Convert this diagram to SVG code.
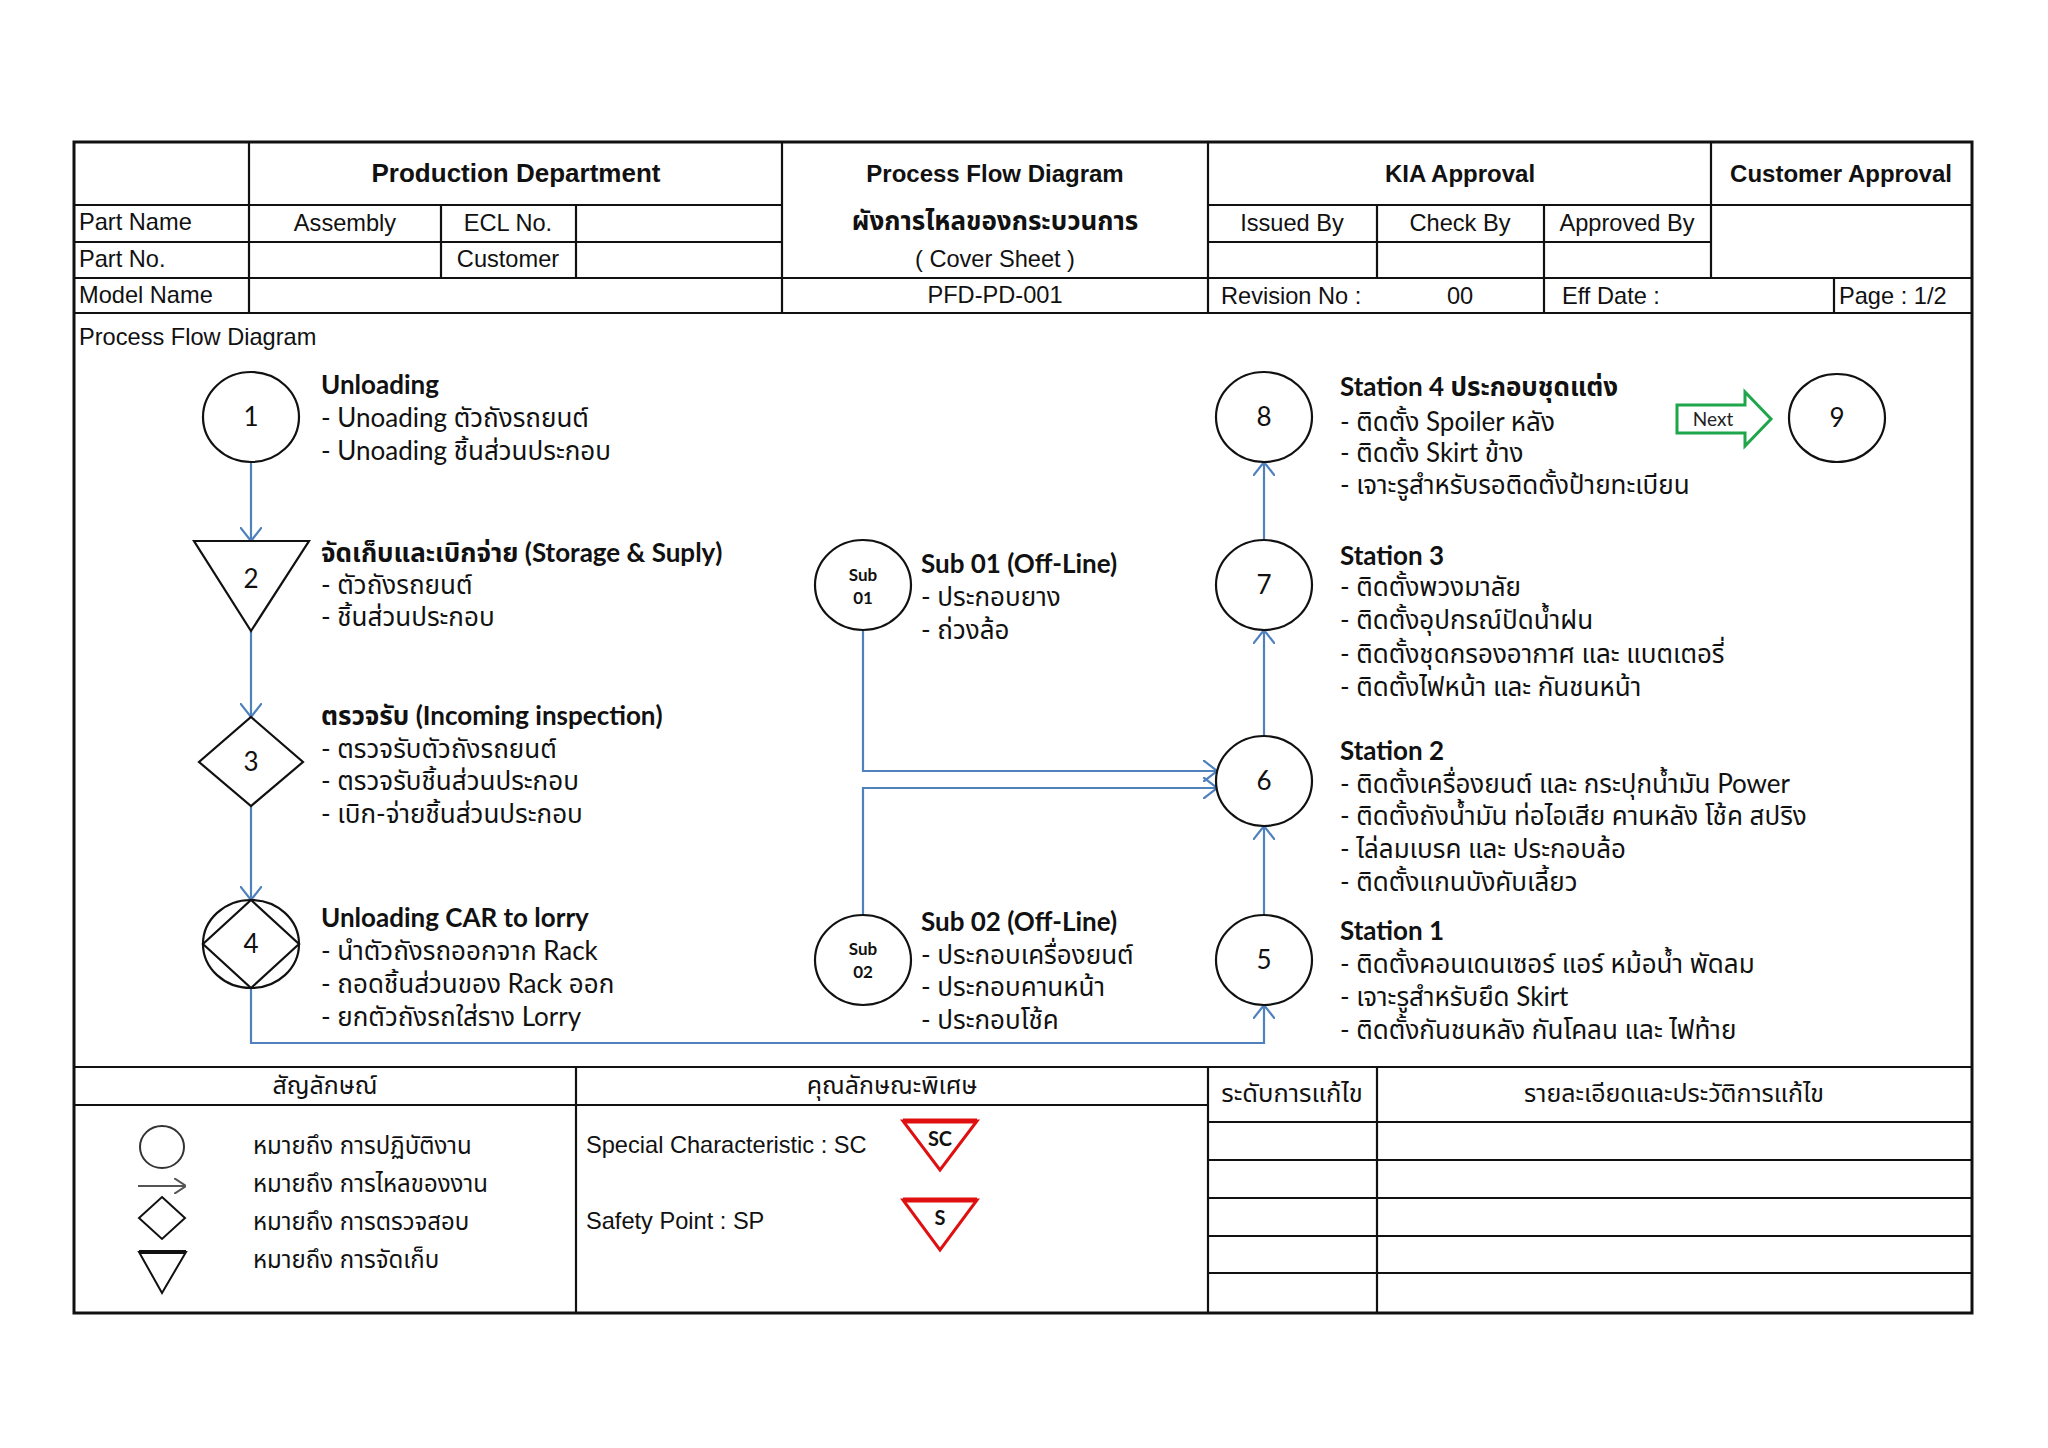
<svg xmlns="http://www.w3.org/2000/svg" width="2048" height="1448" viewBox="0 0 2048 1448">
<defs>
<style>
.ln{stroke:#111;stroke-width:2.2;fill:none}
.hd{font-family:"Liberation Sans",Arial,"Noto Sans Thai","Noto Sans",sans-serif;font-size:23.6px;fill:#111}
.hb{font-family:"Liberation Sans",Arial,"Noto Sans Thai","Noto Sans",sans-serif;font-size:24px;font-weight:bold;fill:#111}
.th{font-family:"Liberation Sans",Arial,"Noto Sans Thai","Noto Sans",sans-serif;font-size:24px;fill:#111}
.ft{font-family:Lato,"Noto Sans Thai","Noto Sans",sans-serif;font-size:26px;fill:#111}
.fb{font-family:Lato,"Noto Sans Thai","Noto Sans",sans-serif;font-size:26px;font-weight:bold;fill:#111}
.num{font-family:Lato,"Noto Sans",sans-serif;font-size:26px;fill:#111;text-anchor:middle}
.sub{font-family:Lato,"Noto Sans",sans-serif;font-size:17px;font-weight:bold;fill:#111;text-anchor:middle}
.shp{stroke:#111;stroke-width:2.2;fill:#fff}
.con{stroke:#4f81bd;stroke-width:2.2;fill:none;marker-end:url(#ah)}
.c{text-anchor:middle}
</style>
<marker id="ah" viewBox="0 0 14 22" refX="14" refY="11" markerWidth="14" markerHeight="22" markerUnits="userSpaceOnUse" orient="auto">
<path d="M0,0 L14,11 L0,22" fill="none" stroke="#4f81bd" stroke-width="2.2"/>
</marker>
<marker id="ahg" viewBox="0 0 12 16" refX="12" refY="8" markerWidth="12" markerHeight="16" markerUnits="userSpaceOnUse" orient="auto">
<path d="M0,0 L12,8 L0,16" fill="none" stroke="#555" stroke-width="2"/>
</marker>
</defs>
<rect width="2048" height="1448" fill="#fff"/>

<g id="frame">
<rect x="74" y="142" width="1898" height="1171" fill="none" stroke="#111" stroke-width="3"/>
<path class="ln" d="M74,205 H782 M1208,205 H1972 M74,242 H782 M1208,242 H1711 M74,278 H1972 M74,313 H1972"/>
<path class="ln" d="M249,142 V313 M441,205 V278 M576,205 V278 M782,142 V313 M1208,142 V313 M1377,205 V278 M1544,205 V313 M1711,142 V278 M1834,278 V313"/>
<path class="ln" d="M74,1067 H1972 M74,1105 H1208 M576,1067 V1313 M1208,1067 V1313 M1377,1067 V1313 M1208,1122 H1972 M1208,1160 H1972 M1208,1198 H1972 M1208,1236 H1972 M1208,1273 H1972"/>
</g>

<g id="header-text">
<text class="hb c" x="516" y="182" style="font-size:26px">Production Department</text>
<text class="hd" x="79" y="230">Part Name</text>
<text class="hd c" x="345" y="231">Assembly</text>
<text class="hd c" x="508" y="231">ECL No.</text>
<text class="hd" x="79" y="267">Part No.</text>
<text class="hd c" x="508" y="267">Customer</text>
<text class="hd" x="79" y="303">Model Name</text>
<text class="hb c" x="995" y="182">Process Flow Diagram</text>
<text class="hb c" x="995" y="230" style="font-size:26px">ผังการไหลของกระบวนการ</text>
<text class="hd c" x="995" y="267">( Cover Sheet )</text>
<text class="hd c" x="995" y="303">PFD-PD-001</text>
<text class="hb c" x="1460" y="182">KIA Approval</text>
<text class="hb c" x="1841" y="182">Customer Approval</text>
<text class="hd c" x="1292" y="231">Issued By</text>
<text class="hd c" x="1460" y="231">Check By</text>
<text class="hd c" x="1627" y="231">Approved By</text>
<text class="hd" x="1221" y="304">Revision No :</text>
<text class="hd c" x="1460" y="304">00</text>
<text class="hd" x="1562" y="304">Eff Date :</text>
<text class="hd" x="1839" y="304">Page : 1/2</text>
<text class="hd" x="79" y="345">Process Flow Diagram</text>
</g>

<g id="connectors">
<path class="con" d="M251,462 V541"/>
<path class="con" d="M251,631 V717"/>
<path class="con" d="M251,806 V900"/>
<path class="con" d="M251,989 V1043 H1264 V1005"/>
<path class="con" d="M1264,915 V826"/>
<path class="con" d="M1264,736 V630"/>
<path class="con" d="M1264,540 V462"/>
<path class="con" d="M863,630 V771 H1217"/>
<path class="con" d="M863,915 V788 H1217"/>
</g>

<g id="node1">
<ellipse class="shp" cx="251" cy="417" rx="48" ry="45"/>
<text class="num" x="251" y="426">1</text>
<text class="fb" x="321" y="394">Unloading</text>
<text class="ft" x="321" y="427">- Unoading ตัวถังรถยนต์</text>
<text class="ft" x="321" y="460">- Unoading ชิ้นส่วนประกอบ</text>
</g>
<g id="node2">
<polygon class="shp" points="194,541 309,541 251,631"/>
<text class="num" x="251" y="588">2</text>
<text class="fb" x="321" y="562">จัดเก็บและเบิกจ่าย (Storage &amp; Suply)</text>
<text class="ft" x="321" y="594">- ตัวถังรถยนต์</text>
<text class="ft" x="321" y="626">- ชิ้นส่วนประกอบ</text>
</g>
<g id="node3">
<polygon class="shp" points="251,717 303,762 251,806 199,762"/>
<text class="num" x="251" y="771">3</text>
<text class="fb" x="321" y="725">ตรวจรับ (Incoming inspection)</text>
<text class="ft" x="321" y="758">- ตรวจรับตัวถังรถยนต์</text>
<text class="ft" x="321" y="790">- ตรวจรับชิ้นส่วนประกอบ</text>
<text class="ft" x="321" y="823">- เบิก-จ่ายชิ้นส่วนประกอบ</text>
</g>
<g id="node4">
<ellipse class="shp" cx="251" cy="944" rx="48" ry="44"/>
<polygon class="shp" points="251,900 299,944 251,988 203,944"/>
<text class="num" x="251" y="953">4</text>
<text class="fb" x="321" y="927">Unloading CAR to lorry</text>
<text class="ft" x="321" y="960">- นำตัวถังรถออกจาก Rack</text>
<text class="ft" x="321" y="993">- ถอดชิ้นส่วนของ Rack ออก</text>
<text class="ft" x="321" y="1026">- ยกตัวถังรถใส่ราง Lorry</text>
</g>
<g id="sub01">
<ellipse class="shp" cx="863" cy="585" rx="48" ry="45"/>
<text class="sub" x="863" y="581">Sub</text>
<text class="sub" x="863" y="604">01</text>
<text class="fb" x="921" y="573">Sub 01 (Off-Line)</text>
<text class="ft" x="921" y="606">- ประกอบยาง</text>
<text class="ft" x="921" y="639">- ถ่วงล้อ</text>
</g>
<g id="sub02">
<ellipse class="shp" cx="863" cy="960" rx="48" ry="45"/>
<text class="sub" x="863" y="955">Sub</text>
<text class="sub" x="863" y="978">02</text>
<text class="fb" x="921" y="931">Sub 02 (Off-Line)</text>
<text class="ft" x="921" y="964">- ประกอบเครื่องยนต์</text>
<text class="ft" x="921" y="996">- ประกอบคานหน้า</text>
<text class="ft" x="921" y="1029">- ประกอบโช้ค</text>
</g>
<g id="node5">
<ellipse class="shp" cx="1264" cy="960" rx="48" ry="45"/>
<text class="num" x="1264" y="969">5</text>
<text class="fb" x="1340" y="940">Station 1</text>
<text class="ft" x="1340" y="973">- ติดตั้งคอนเดนเซอร์ แอร์ หม้อน้ำ พัดลม</text>
<text class="ft" x="1340" y="1006">- เจาะรูสำหรับยึด Skirt</text>
<text class="ft" x="1340" y="1039">- ติดตั้งกันชนหลัง กันโคลน และ ไฟท้าย</text>
</g>
<g id="node6">
<ellipse class="shp" cx="1264" cy="781" rx="48" ry="45"/>
<text class="num" x="1264" y="790">6</text>
<text class="fb" x="1340" y="760">Station 2</text>
<text class="ft" x="1340" y="793">- ติดตั้งเครื่องยนต์ และ กระปุกน้ำมัน Power</text>
<text class="ft" x="1340" y="825">- ติดตั้งถังน้ำมัน ท่อไอเสีย คานหลัง โช้ค สปริง</text>
<text class="ft" x="1340" y="858">- ไล่ลมเบรค และ ประกอบล้อ</text>
<text class="ft" x="1340" y="891">- ติดตั้งแกนบังคับเลี้ยว</text>
</g>
<g id="node7">
<ellipse class="shp" cx="1264" cy="585" rx="48" ry="45"/>
<text class="num" x="1264" y="594">7</text>
<text class="fb" x="1340" y="565">Station 3</text>
<text class="ft" x="1340" y="596">- ติดตั้งพวงมาลัย</text>
<text class="ft" x="1340" y="629">- ติดตั้งอุปกรณ์ปัดน้ำฝน</text>
<text class="ft" x="1340" y="663">- ติดตั้งชุดกรองอากาศ และ แบตเตอรี่</text>
<text class="ft" x="1340" y="696">- ติดตั้งไฟหน้า และ กันชนหน้า</text>
</g>
<g id="node8">
<ellipse class="shp" cx="1264" cy="417" rx="48" ry="45"/>
<text class="num" x="1264" y="426">8</text>
<text class="fb" x="1340" y="396">Station 4 ประกอบชุดแต่ง</text>
<text class="ft" x="1340" y="431">- ติดตั้ง Spoiler หลัง</text>
<text class="ft" x="1340" y="462">- ติดตั้ง Skirt ข้าง</text>
<text class="ft" x="1340" y="494">- เจาะรูสำหรับรอติดตั้งป้ายทะเบียน</text>
</g>
<g id="next">
<polygon points="1677,405 1745,405 1745,392 1771,419 1745,446 1745,433 1677,433" fill="#fff" stroke="#1fa54a" stroke-width="3"/>
<text x="1713" y="426" style="font-family:Lato,'Noto Sans',sans-serif;font-size:19px;fill:#222" text-anchor="middle">Next</text>
</g>
<g id="node9">
<ellipse class="shp" cx="1837" cy="418" rx="48" ry="44"/>
<text class="num" x="1837" y="427">9</text>
</g>

<g id="legend">
<text class="th c" x="325" y="1094" style="font-size:25px">สัญลักษณ์</text>
<text class="th c" x="892" y="1094" style="font-size:25px">คุณลักษณะพิเศษ</text>
<text class="th c" x="1292" y="1102" style="font-size:25.5px">ระดับการแก้ไข</text>
<text class="th c" x="1674" y="1102" style="font-size:25px">รายละเอียดและประวัติการแก้ไข</text>
<ellipse cx="162" cy="1147" rx="22" ry="21" fill="none" stroke="#333" stroke-width="2"/>
<path d="M138,1186 H186" stroke="#555" stroke-width="2" fill="none" marker-end="url(#ahg)"/>
<polygon points="162,1197 185,1218 162,1239 139,1218" fill="none" stroke="#111" stroke-width="2"/>
<polygon points="139,1252 186,1252 162,1293" fill="none" stroke="#111" stroke-width="2"/>
<path d="M139,1252 H186" stroke="#111" stroke-width="4"/>
<text class="th" x="253" y="1154">หมายถึง การปฏิบัติงาน</text>
<text class="th" x="253" y="1192">หมายถึง การไหลของงาน</text>
<text class="th" x="253" y="1230">หมายถึง การตรวจสอบ</text>
<text class="th" x="253" y="1268">หมายถึง การจัดเก็บ</text>
<text class="hd" x="586" y="1153">Special Characteristic : SC</text>
<text class="hd" x="586" y="1229">Safety Point : SP</text>
<polygon points="903,1121 977,1121 940,1170" fill="#fff" stroke="#e01010" stroke-width="3"/>
<path d="M903,1121 H977" stroke="#e01010" stroke-width="5"/>
<text x="940" y="1146" text-anchor="middle" style="font-family:Lato,sans-serif;font-size:20px;font-weight:bold;fill:#111">SC</text>
<polygon points="903,1200 977,1200 940,1250" fill="#fff" stroke="#e01010" stroke-width="3"/>
<path d="M903,1200 H977" stroke="#e01010" stroke-width="5"/>
<text x="940" y="1225" text-anchor="middle" style="font-family:Lato,sans-serif;font-size:20px;font-weight:bold;fill:#111">S</text>
</g>
</svg>
